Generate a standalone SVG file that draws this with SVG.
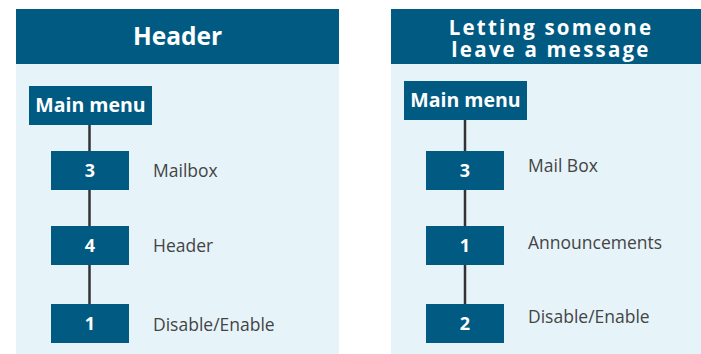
<svg xmlns="http://www.w3.org/2000/svg" width="701" height="354" viewBox="0 0 701 354">
<style>
.panel{fill:#e6f4fa}
.head{fill:#005a82}
.box{fill:#005a82}
.title{font-family:"Open Sans","Noto Sans",sans-serif;font-weight:bold;fill:#ffffff;text-anchor:middle}
.bt{font-family:"Open Sans","Noto Sans",sans-serif;font-weight:bold;fill:#ffffff;text-anchor:middle;font-size:18px}
.mm{font-size:19.5px}
.lbl{font-family:"Open Sans","Noto Sans",sans-serif;fill:#444444;font-size:17.5px}
.conn line{stroke:#333333;stroke-width:2.5}
</style>
<rect width="701" height="354" fill="#ffffff"/>
<g id="panel-left">
<rect class="panel" x="16" y="9" width="323" height="345"/>
<rect class="head" x="16" y="9" width="323" height="55"/>
<text class="title" x="177.5" y="45" font-size="24.5">Header</text>
</g>
<g id="panel-right">
<rect class="panel" x="391" y="9" width="310" height="345"/>
<rect class="head" x="391" y="9" width="310" height="55"/>
<text class="title" font-size="20.5" letter-spacing="2.2"><tspan x="551" y="35">Letting someone</tspan><tspan x="551" y="57">leave a message</tspan></text>
</g>
<g class="conn" id="connectors">
<line x1="89.5" y1="125" x2="89.5" y2="151"/>
<line x1="89.5" y1="190" x2="89.5" y2="226"/>
<line x1="89.5" y1="265" x2="89.5" y2="304"/>
<line x1="465" y1="120" x2="465" y2="151"/>
<line x1="465" y1="190" x2="465" y2="226"/>
<line x1="465" y1="265" x2="465" y2="304"/>
</g>
<g id="l-main"><rect class="box" x="29" y="86" width="123" height="39"/><text class="bt mm" x="90.5" y="112">Main menu</text></g>
<g id="l-3"><rect class="box" x="51" y="151" width="78" height="39"/><text class="bt" x="90" y="177">3</text><text class="lbl" x="153" y="177">Mailbox</text></g>
<g id="l-4"><rect class="box" x="51" y="226" width="78" height="39"/><text class="bt" x="90" y="252">4</text><text class="lbl" x="153" y="252">Header</text></g>
<g id="l-1"><rect class="box" x="51" y="304" width="78" height="39"/><text class="bt" x="90" y="330">1</text><text class="lbl" x="153" y="331">Disable/Enable</text></g>
<g id="r-main"><rect class="box" x="404" y="81" width="123" height="39"/><text class="bt mm" x="465.5" y="107">Main menu</text></g>
<g id="r-3"><rect class="box" x="426" y="151" width="78" height="39"/><text class="bt" x="465" y="177">3</text><text class="lbl" x="528" y="172">Mail Box</text></g>
<g id="r-1"><rect class="box" x="426" y="226" width="78" height="39"/><text class="bt" x="465" y="252">1</text><text class="lbl" x="528" y="249">Announcements</text></g>
<g id="r-2"><rect class="box" x="426" y="304" width="78" height="39"/><text class="bt" x="465" y="330">2</text><text class="lbl" x="528" y="323">Disable/Enable</text></g>
</svg>
